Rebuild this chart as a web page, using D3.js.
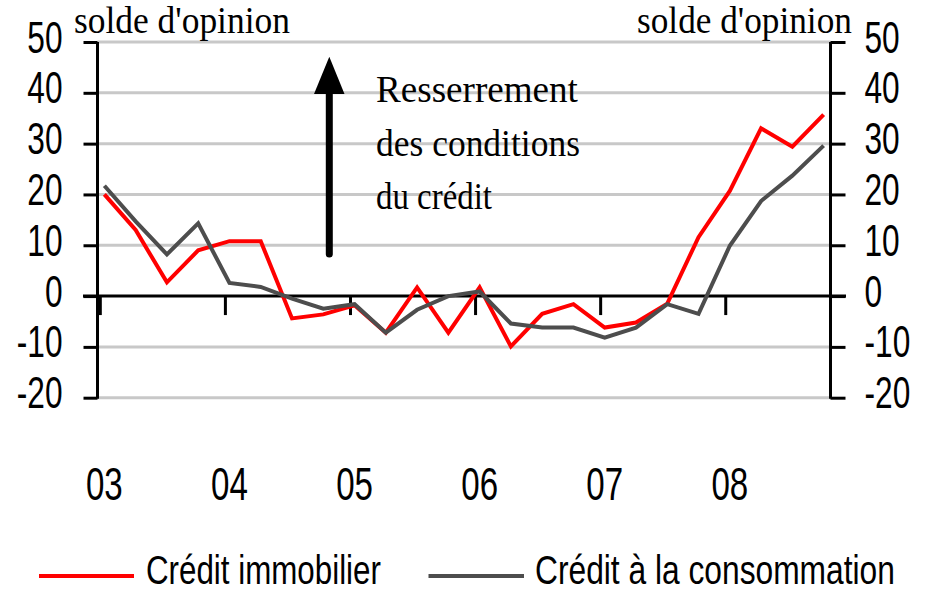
<!DOCTYPE html>
<html><head><meta charset="utf-8">
<script src="https://cdn.jsdelivr.net/npm/d3@7"></script>
<style>
html,body{margin:0;padding:0;background:#fff;}
svg{display:block;}
</style></head>
<body>
<svg id="chart" width="931" height="595"></svg>
<script>
// ---- data ----
const quarters = d3.range(24); // 2003Q1 .. 2008Q4
const yearLabels = ["03","04","05","06","07","08"];
const creditImmobilier = [20, 13, 2.7, 9, 10.8, 10.8, -4.4, -3.6, -1.8, -7.2, 1.7, -7.2, 1.7, -9.9, -3.5, -1.6, -6.2, -5.2, -1.5, 11.6, 20.7, 33, 29.4, 35.7];
const creditConsommation = [21.7, 14.7, 8.2, 14.3, 2.6, 1.8, -0.5, -2.5, -1.6, -7.2, -2.7, 0, 0.9, -5.4, -6.2, -6.2, -8.2, -6.2, -1.6, -3.5, 9.9, 18.7, 23.7, 29.6];
const yTicks = [50, 40, 30, 20, 10, 0, -10, -20];
const seriesNames = ["Crédit immobilier", "Crédit à la consommation"];
const axisTitle = "solde d'opinion";
const annotation = ["Resserrement", "des conditions", "du crédit"];

// ---- layout ----
const svg = d3.select("#chart");
const x = d3.scaleLinear().domain([-0.22, 23.22]).range([97.5, 830.5]);
const y = d3.scaleLinear().domain([-20, 50]).range([397.7, 42]);
const sansFont = "'Liberation Sans','Arial',sans-serif";
const serifFont = "'Liberation Serif','Times New Roman',serif";
const colors = ["#ff0000", "#4d4d4d"];
const narrow = 0.72;

// gridlines
svg.append("g").selectAll("line").data(yTicks.filter(d => d !== 0)).join("line")
  .attr("x1", x.range()[0]).attr("x2", x.range()[1])
  .attr("y1", d => y(d)).attr("y2", d => y(d))
  .attr("stroke", "#c8c8c8").attr("stroke-width", 3);

// left & right axes
const fmt = d => String(d);
const leftAxis = d3.axisLeft(y).tickValues(yTicks).tickSize(14).tickFormat(fmt);
const rightAxis = d3.axisRight(y).tickValues(yTicks).tickSize(15).tickFormat(fmt);
function styleAxis(g, side) {
  g.select(".domain").attr("stroke", "#000").attr("stroke-width", 3)
    .attr("d", `M0,${y(50)}V${y(-20) + 1}`);
  g.selectAll(".tick line").attr("stroke", "#000").attr("stroke-width", 3);
  g.selectAll(".tick text")
    .attr("font-family", sansFont).attr("font-size", 44).attr("fill", "#000")
    .attr("x", 0).attr("dy", null).attr("y", 0)
    .attr("text-anchor", side === "left" ? "end" : "start")
    .attr("transform", side === "left" ? `translate(-35,10) scale(${narrow},1)` : `translate(34,10) scale(${narrow},1)`);
}
svg.append("g").attr("transform", `translate(${x.range()[0]},0)`).call(leftAxis).call(g => styleAxis(g, "left"));
svg.append("g").attr("transform", `translate(${x.range()[1]},0)`).call(rightAxis).call(g => styleAxis(g, "right"));

// zero line
svg.append("line").attr("x1", 83).attr("x2", 846).attr("y1", y(0)).attr("y2", y(0))
  .attr("stroke", "#000").attr("stroke-width", 3);

// x axis (year ticks below zero line)
const yearTickPos = yearLabels.map((d, i) => 4 * i - 0.13);
svg.append("g").selectAll("line").data(yearTickPos).join("line")
  .attr("x1", d => x(d)).attr("x2", d => x(d))
  .attr("y1", y(0)).attr("y2", y(0) + 19)
  .attr("stroke", "#000").attr("stroke-width", 3);
svg.append("g").selectAll("text").data(yearLabels).join("text")
  .attr("transform", (d, i) => `translate(${x(4 * i)},500) scale(${narrow},1)`)
  .attr("text-anchor", "middle")
  .attr("font-family", sansFont).attr("font-size", 46).attr("fill", "#000")
  .text(d => d);

// lines
const line = d3.line().x((d, i) => x(quarters[i])).y(d => y(d));
[creditImmobilier, creditConsommation].forEach((s, k) => {
  svg.append("path").datum(s).attr("d", line)
    .attr("fill", "none").attr("stroke", colors[k]).attr("stroke-width", 4)
    .attr("stroke-linejoin", "miter");
});

// helper: fit text to a width by horizontal scaling
function fitText(sel, x0, y0, width) {
  const w = sel.node().getComputedTextLength();
  sel.attr("transform", `translate(${x0},${y0}) scale(${width / w},1)`);
}

// axis titles
[[74, 216], [637, 215]].forEach(([x0, w]) => {
  const t = svg.append("text").attr("font-family", serifFont).attr("font-size", 38).text(axisTitle);
  fitText(t, x0, 33, w);
});

// annotation arrow
svg.append("line").attr("x1", 329.3).attr("x2", 329.3).attr("y1", 254).attr("y2", 90)
  .attr("stroke", "#000").attr("stroke-width", 7).attr("stroke-linecap", "round");
svg.append("path").attr("d", "M329.3,56.7L314,94L344.5,94Z").attr("fill", "#000");
const annLens = [202, 204, 116];
const annY = [101.7, 156, 209];
annotation.forEach((s, i) => {
  const t = svg.append("text").attr("font-family", serifFont).attr("font-size", 38).text(s);
  fitText(t, 376, annY[i], annLens[i]);
});

// legend
const legX = [[39, 134, 146, 235], [428.5, 524, 535, 360]];
seriesNames.forEach((n, k) => {
  svg.append("line").attr("x1", legX[k][0]).attr("x2", legX[k][1]).attr("y1", 576).attr("y2", 576)
    .attr("stroke", colors[k]).attr("stroke-width", 4);
  const t = svg.append("text")
    .attr("font-family", sansFont).attr("font-size", 41).attr("fill", "#000").text(n);
  fitText(t, legX[k][2], 584, legX[k][3]);
});
</script>
</body></html>
